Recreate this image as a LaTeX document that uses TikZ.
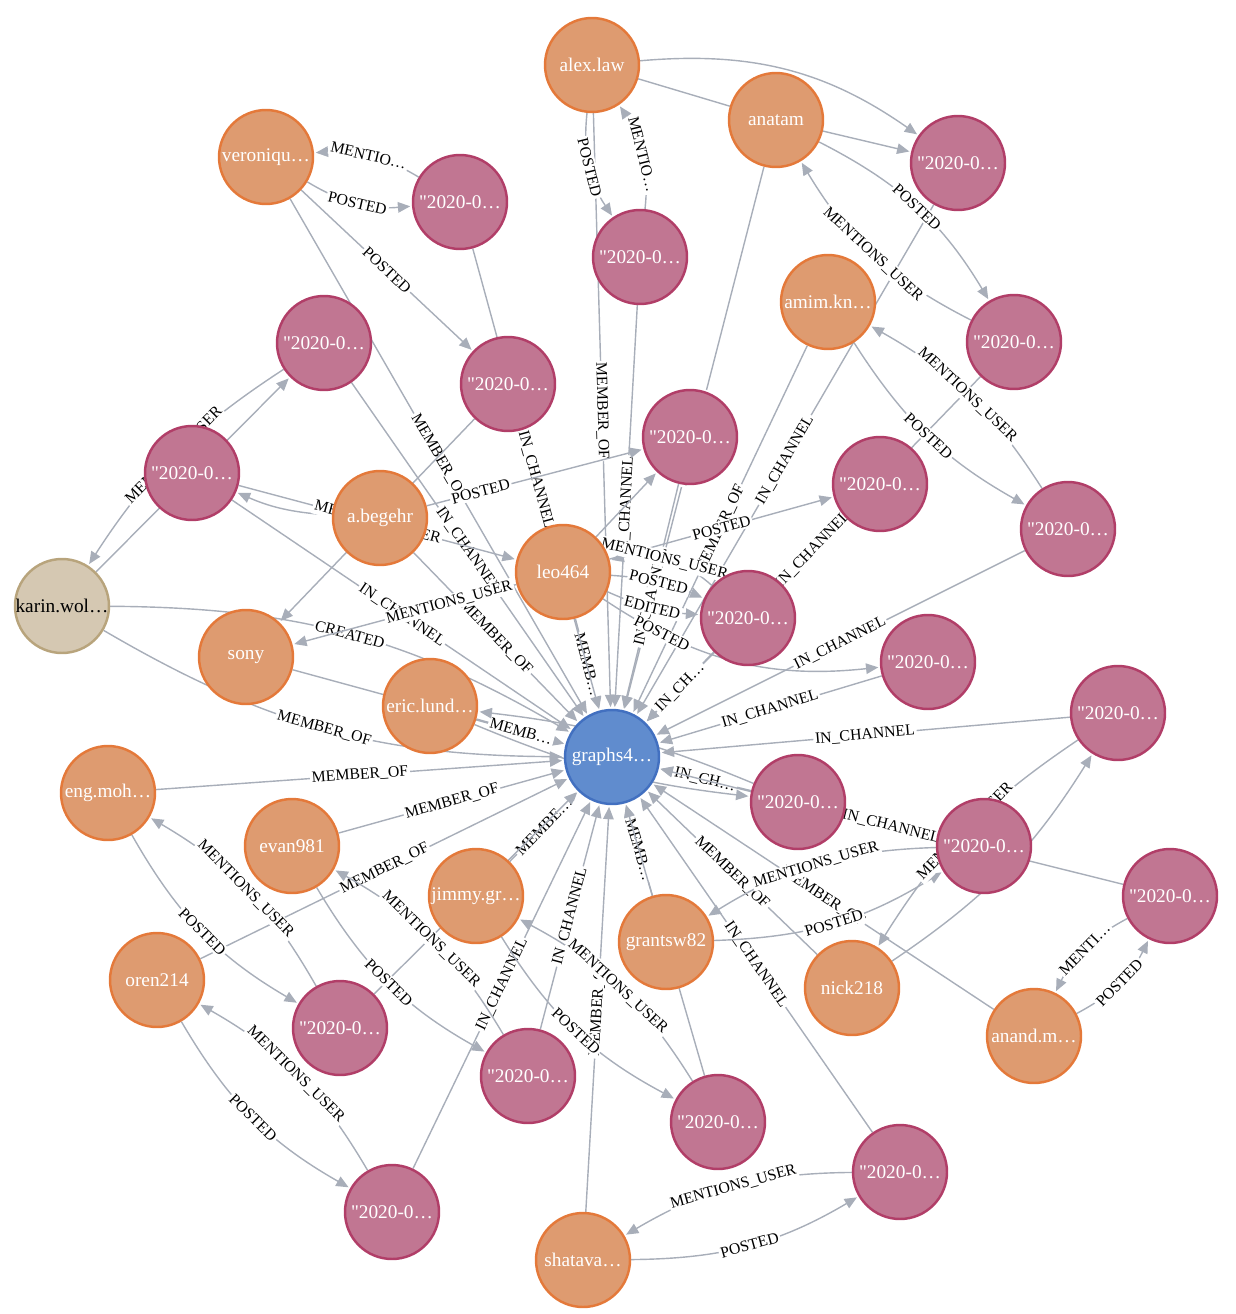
\documentclass[tikz,border=0pt]{standalone}
\usepackage{fontspec}
\setmainfont{Liberation Serif}
\usepackage{tikz}
\usetikzlibrary{arrows.meta,backgrounds}

\definecolor{userfill}{RGB}{222,155,112}
\definecolor{userline}{RGB}{228,121,58}
\definecolor{msgfill}{RGB}{193,118,146}
\definecolor{msgline}{RGB}{177,62,104}
\definecolor{chanfill}{RGB}{96,140,206}
\definecolor{chanline}{RGB}{66,112,192}
\definecolor{ownerfill}{RGB}{213,200,178}
\definecolor{ownerline}{RGB}{184,164,124}
\definecolor{relgray}{RGB}{168,174,185}

\newcommand{\msgtext}{\textquotedbl 2020-0…}

\tikzset{
  dot/.style={circle, minimum size=1.88cm, inner sep=0pt, line width=1.4pt,
    text=white, font=\fontsize{11}{13}\selectfont},
  user/.style={dot, fill=userfill, draw=userline},
  msg/.style={dot, fill=msgfill, draw=msgline},
  chan/.style={dot, fill=chanfill, draw=chanline},
  owner/.style={dot, fill=ownerfill, draw=ownerline, text=black},
  rel/.style={draw=relgray, line width=0.8pt, -{Triangle[length=7pt,width=6pt]}, shorten >=1pt},
  bare/.style={draw=relgray, line width=0.8pt},
  lbl/.style={midway, sloped, fill=white, inner sep=1pt, text=black,
    font=\fontsize{9}{10}\selectfont}
}

\begin{document}
\begin{tikzpicture}[x=0.02cm, y=-0.02cm]
    \useasboundingbox (0,0) rectangle (1236,1314);

    % Channel and people
    \node[chan] (graphs) at (612,757) {graphs4…};
    \node[owner] (karin) at (62,606) {karin.wol…};
    \node[user] (alexlaw) at (592,65) {alex.law};
    \node[user] (anatam) at (776,120) {anatam};
    \node[user] (veroniqu) at (266,157) {veroniqu…};
    \node[user] (amim) at (828,302) {amim.kn…};
    \node[user] (abegehr) at (380,518) {a.begehr};
    \node[user] (leo) at (563,572) {leo464};
    \node[user] (sony) at (246,657) {sony};
    \node[user] (eric) at (430,706) {eric.lund…};
    \node[user] (engmoh) at (108,793) {eng.moh…};
    \node[user] (evan) at (292,846) {evan981};
    \node[user] (jimmy) at (476,896) {jimmy.gr…};
    \node[user] (grant) at (666,942) {grantsw82};
    \node[user] (oren) at (157,980) {oren214};
    \node[user] (nick) at (852,988) {nick218};
    \node[user] (anand) at (1034,1036) {anand.m…};
    \node[user] (shatava) at (583,1260) {shatava…};

    % Messages
    \node[msg] (m1) at (958,163) {\msgtext};
    \node[msg] (m2) at (460,202) {\msgtext};
    \node[msg] (m3) at (640,257) {\msgtext};
    \node[msg] (m4) at (324,343) {\msgtext};
    \node[msg] (m5) at (508,384) {\msgtext};
    \node[msg] (m6) at (1014,342) {\msgtext};
    \node[msg] (m7) at (690,437) {\msgtext};
    \node[msg] (m8) at (192,473) {\msgtext};
    \node[msg] (m9) at (880,484) {\msgtext};
    \node[msg] (m10) at (1068,529) {\msgtext};
    \node[msg] (m11) at (748,618) {\msgtext};
    \node[msg] (m12) at (928,662) {\msgtext};
    \node[msg] (m13) at (1118,713) {\msgtext};
    \node[msg] (m14) at (798,802) {\msgtext};
    \node[msg] (m15) at (984,846) {\msgtext};
    \node[msg] (m16) at (1170,896) {\msgtext};
    \node[msg] (m17) at (340,1028) {\msgtext};
    \node[msg] (m18) at (528,1076) {\msgtext};
    \node[msg] (m19) at (718,1122) {\msgtext};
    \node[msg] (m20) at (900,1172) {\msgtext};
    \node[msg] (m21) at (392,1212) {\msgtext};

    \begin{pgfonlayer}{background}
    % Into the channel
    \draw[rel] (alexlaw) -- node[lbl]{MEMBER\_OF} (graphs);
    \draw[rel] (anatam) -- node[lbl]{MEMBER\_OF} (graphs);
    \draw[rel] (veroniqu) -- node[lbl]{MEMBER\_OF} (graphs);
    \draw[rel] (amim) -- node[lbl]{MEMBER\_OF} (graphs);
    \draw[rel] (abegehr) -- node[lbl]{MEMBER\_OF} (graphs);
    \draw[rel] (leo) -- node[lbl]{MEMB…} (graphs);
    \draw[rel] (sony) -- (graphs);
    \draw[rel] (eric) -- node[lbl]{MEMB…} (graphs);
    \draw[rel] (engmoh) -- node[lbl]{MEMBER\_OF} (graphs);
    \draw[rel] (evan) -- node[lbl]{MEMBER\_OF} (graphs);
    \draw[rel] (oren) -- node[lbl]{MEMBER\_OF} (graphs);
    \draw[rel] (jimmy) -- node[lbl]{MEMBE…} (graphs);
    \draw[rel] (grant) -- node[lbl]{MEMB…} (graphs);
    \draw[rel] (shatava) -- node[lbl]{MEMBER\_OF} (graphs);
    \draw[rel] (nick) -- node[lbl]{MEMBER\_OF} (graphs);
    \draw[rel] (anand) -- node[lbl]{MEMBER\_OF} (graphs);
    \draw[rel] (karin) to[bend left=15] node[lbl]{CREATED} (graphs);
    \draw[rel] (karin) to[bend right=15] node[lbl]{MEMBER\_OF} (graphs);
    \draw[rel] (m1) -- node[lbl]{IN\_CHANNEL} (graphs);
    \draw[rel] (m2) -- node[lbl]{IN\_CHANNEL} (graphs);
    \draw[rel] (m3) -- node[lbl]{IN\_CHANNEL} (graphs);
    \draw[rel] (m4) -- node[lbl]{IN\_CHANNEL} (graphs);
    \draw[rel] (m6) -- node[lbl]{IN\_CHANNEL} (graphs);
    \draw[rel] (m7) -- node[lbl]{IN\_CHANNEL} (graphs);
    \draw[rel] (m8) -- node[lbl]{IN\_CHANNEL} (graphs);
    \draw[rel] (m10) -- node[lbl]{IN\_CHANNEL} (graphs);
    \draw[rel] (m11) -- node[lbl]{IN\_CH…} (graphs);
    \draw[rel] (m12) -- node[lbl]{IN\_CHANNEL} (graphs);
    \draw[rel] (m13) -- node[lbl]{IN\_CHANNEL} (graphs);
    \draw[rel] (m14) -- node[lbl]{IN\_CH…} (graphs);
    \draw[rel] (m16) -- node[lbl]{IN\_CHANNEL} (graphs);
    \draw[rel] (m17) -- (graphs);
    \draw[rel] (m18) -- node[lbl]{IN\_CHANNEL} (graphs);
    \draw[rel] (m19) -- (graphs);
    \draw[rel] (m20) -- node[lbl]{IN\_CHANNEL} (graphs);
    \draw[rel] (m21) -- node[lbl]{IN\_CHANNEL} (graphs);

    % Top
    \draw[rel] (alexlaw) to[bend left=20] (m1);
    \draw[bare] (alexlaw) -- (anatam);
    \draw[rel] (anatam) -- (m1);
    \draw[rel] (alexlaw) to[bend right=20] node[lbl]{POSTED} (m3);
    \draw[rel] (m3) to[bend right=20] node[lbl]{MENTIO…} (alexlaw);
    \draw[rel] (veroniqu) to[bend right=18] node[lbl]{POSTED} (m2);
    \draw[rel] (m2) to[bend right=18] node[lbl]{MENTIO…} (veroniqu);
    \draw[rel] (veroniqu) -- node[lbl]{POSTED} (m5);
    \draw[rel] (anatam) to[bend left=16] node[lbl]{POSTED} (m6);
    \draw[rel] (m6) to[bend left=16] node[lbl]{MENTIONS\_USER} (anatam);
    \draw[rel] (amim) to[bend right=14] node[lbl]{POSTED} (m10);
    \draw[rel] (m10) to[bend right=14] node[lbl]{MENTIONS\_USER} (amim);

    % Left and centre
    \draw[rel] (karin) -- (m4);
    \draw[rel] (m4) to[bend right=12] node[lbl]{MENTIONS\_USER} (karin);
    \draw[rel] (abegehr) to[bend left=10] (m8);
    \draw[rel] (m8) -- node[lbl]{MENTIONS\_USER} (leo);
    \draw[rel] (m5) -- (sony);
    \draw[rel] (leo) -- node[lbl, pos=.3]{MENTIONS\_USER} (sony);
    \draw[rel] (abegehr) -- node[lbl, pos=.25]{POSTED} (m7);
    \draw[rel] (leo) -- (m7);
    \draw[rel] (leo) -- node[lbl]{POSTED} (m9);
    \draw[rel] (m11) to[bend right=28] node[lbl]{MENTIONS\_USER} (leo);
    \draw[rel] (leo) to[bend left=10] node[lbl]{POSTED} (m11);
    \draw[rel] (leo) to[bend right=10] node[lbl]{EDITED} (m11);
    \draw[rel] (leo) to[bend right=20] node[lbl, pos=.22]{POSTED} (m12);
    \draw[rel] (eric) to[bend right=8] (m14);
    \draw[rel] (m14) to[bend right=8] (eric);

    % Right
    \draw[rel] (grant) to[bend right=15] node[lbl]{POSTED} (m15);
    \draw[rel] (m15) to[bend right=15] node[lbl]{MENTIONS\_USER} (grant);
    \draw[rel] (nick) to[bend right=12] (m13);
    \draw[rel] (m13) to[bend right=12] node[lbl]{MENTIONS\_USER} (nick);
    \draw[rel] (anand) to[bend right=18] node[lbl]{POSTED} (m16);
    \draw[rel] (m16) to[bend right=18] node[lbl]{MENTI…} (anand);

    % Bottom
    \draw[rel] (engmoh) to[bend right=15] node[lbl]{POSTED} (m17);
    \draw[rel] (m17) to[bend right=15] node[lbl]{MENTIONS\_USER} (engmoh);
    \draw[rel] (evan) to[bend right=15] node[lbl]{POSTED} (m18);
    \draw[rel] (m18) to[bend right=15] node[lbl]{MENTIONS\_USER} (evan);
    \draw[rel] (oren) to[bend right=15] node[lbl]{POSTED} (m21);
    \draw[rel] (m21) to[bend right=15] node[lbl]{MENTIONS\_USER} (oren);
    \draw[rel] (jimmy) to[bend right=15] node[lbl]{POSTED} (m19);
    \draw[rel] (m19) to[bend right=15] node[lbl]{MENTIONS\_USER} (jimmy);
    \draw[rel] (shatava) to[bend right=15] node[lbl]{POSTED} (m20);
    \draw[rel] (m20) to[bend right=15] node[lbl]{MENTIONS\_USER} (shatava);
    \end{pgfonlayer}
\end{tikzpicture}
\end{document}
